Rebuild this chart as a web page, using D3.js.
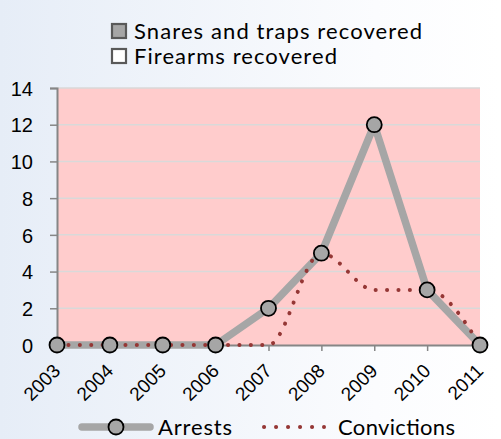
<!DOCTYPE html>
<html>
<head>
<meta charset="utf-8">
<script src="https://cdn.jsdelivr.net/npm/d3@7"></script>
<style>
body{margin:0;padding:0;}
svg{display:block;font-family:Lato,"Open Sans",sans-serif;}
</style>
</head>
<body>
<svg id="svg" width="501" height="439"></svg>
<script>
const years=["2003","2004","2005","2006","2007","2008","2009","2010","2011"];
const arrests=[0,0,0,0,2,5,12,3,0];
const convictions=[0,0,0,0,0,5,3,3,0];
const yTicks=[0,2,4,6,8,10,12,14];
const topLegend=["Snares and traps recovered","Firearms recovered"];
const topLegendFill=["#a6a6a6","#ffffff"];
const topLegendWidth=[288,203];

const plotLeft=57,plotRight=480,plotTop=88,plotBottom=345;

var svg=d3.select("#svg");

//background gradient
var grad=svg.append("defs").append("linearGradient").attr("id","bg")
        .attr("x1","0").attr("x2","1").attr("y1","0").attr("y2","0")
grad.append("stop").attr("offset","0").attr("stop-color","#e6edf7")
grad.append("stop").attr("offset","0.75").attr("stop-color","#fbfcfe")
grad.append("stop").attr("offset","1").attr("stop-color","#ffffff")
svg.append("rect").attr("width",501).attr("height",439).attr("fill","url(#bg)")

var x=d3.scalePoint().domain(years).range([plotLeft,plotRight])
var y=d3.scaleLinear().domain([0,14]).range([plotBottom,plotTop])

//plot area
svg.append("rect")
        .attr("x",plotLeft).attr("y",plotTop)
        .attr("width",plotRight-plotLeft).attr("height",plotBottom-plotTop)
        .attr("fill","#ffcccc")

//gridlines
svg.append("g").selectAll("line")
        .data(yTicks.filter(d=>d>0)).enter().append("line")
            .attr("x1",plotLeft).attr("x2",plotRight)
            .attr("y1",d=>y(d)).attr("y2",d=>y(d))
            .attr("stroke","#d9d9d9").attr("stroke-width",1.5)

//y axis
var yAxis=svg.append("g")
        .attr("transform","translate("+plotLeft+",0)")
        .call(d3.axisLeft(y).tickValues(yTicks).tickSize(7))
yAxis.select(".domain").attr("stroke","#868686").attr("stroke-width",2)
yAxis.selectAll(".tick line").attr("stroke","#868686").attr("stroke-width",1.5)
yAxis.selectAll("text").style("font-size","20px").attr("fill","#000")
        .attr("x",-24).attr("dy","0.36em")

//x axis
var xAxis=svg.append("g")
        .attr("transform","translate(0,"+plotBottom+")")
        .call(d3.axisBottom(x).tickSize(6).tickSizeOuter(0))
xAxis.select(".domain").attr("stroke","#868686").attr("stroke-width",2)
xAxis.selectAll(".tick line").attr("stroke","#868686").attr("stroke-width",1.5)
xAxis.selectAll("text")
        .style("font-size","19px").attr("fill","#000")
        .attr("text-anchor","end")
        .attr("x",0).attr("y",0).attr("dy","0")
        .attr("transform","translate(4,27) rotate(-45)")

//arrests line
svg.append("path")
        .datum(arrests)
        .attr("d",d3.line().x((d,i)=>x(years[i])).y(d=>y(d)))
        .attr("fill","none")
        .attr("stroke","#a6a6a6")
        .attr("stroke-width",7.5)
        .attr("stroke-linejoin","round")

//convictions line (smoothed, dotted)
svg.append("path")
        .datum(convictions)
        .attr("d",d3.line().x((d,i)=>x(years[i])).y(d=>y(d)).curve(d3.curveMonotoneX))
        .attr("fill","none")
        .attr("stroke","#953735")
        .attr("stroke-width",4)
        .attr("stroke-linecap","round")
        .attr("stroke-dasharray","0.1 11.3")

//arrest markers
svg.append("g").selectAll("circle")
        .data(arrests).enter().append("circle")
            .attr("cx",(d,i)=>x(years[i]))
            .attr("cy",d=>y(d))
            .attr("r",7.5)
            .attr("fill","#a6a6a6")
            .attr("stroke","#000")
            .attr("stroke-width",1.8)

//top legend
var tl=svg.append("g").selectAll("g")
        .data(topLegend).enter().append("g")
            .attr("transform",(d,i)=>"translate(112,"+(24+i*25)+")")
tl.append("rect")
        .attr("width",14).attr("height",14)
        .attr("fill",(d,i)=>topLegendFill[i])
        .attr("stroke","#595959").attr("stroke-width",2.2)
tl.append("text")
        .attr("x",22).attr("y",7).attr("dy","0.36em")
        .style("font-size","22px")
        .attr("textLength",(d,i)=>topLegendWidth[i])
        .attr("lengthAdjust","spacing")
        .text(d=>d)

//bottom legend
var bl=svg.append("g").attr("transform","translate(0,427)")
bl.append("line").attr("x1",82).attr("x2",150).attr("y1",0).attr("y2",0)
        .attr("stroke","#a6a6a6").attr("stroke-width",7.5).attr("stroke-linecap","round")
bl.append("circle").attr("cx",116).attr("cy",0).attr("r",7.5)
        .attr("fill","#a6a6a6").attr("stroke","#000").attr("stroke-width",1.8)
bl.append("text").attr("x",158).attr("y",0).attr("dy","0.36em")
        .style("font-size","22px").attr("textLength",74).attr("lengthAdjust","spacing")
        .text("Arrests")
bl.append("line").attr("x1",264).attr("x2",324).attr("y1",0).attr("y2",0)
        .attr("stroke","#953735").attr("stroke-width",4).attr("stroke-linecap","round")
        .attr("stroke-dasharray","0.1 11.9")
bl.append("text").attr("x",338).attr("y",0).attr("dy","0.36em")
        .style("font-size","22px").attr("textLength",117).attr("lengthAdjust","spacing")
        .text("Convictions")
</script>
</body>
</html>
